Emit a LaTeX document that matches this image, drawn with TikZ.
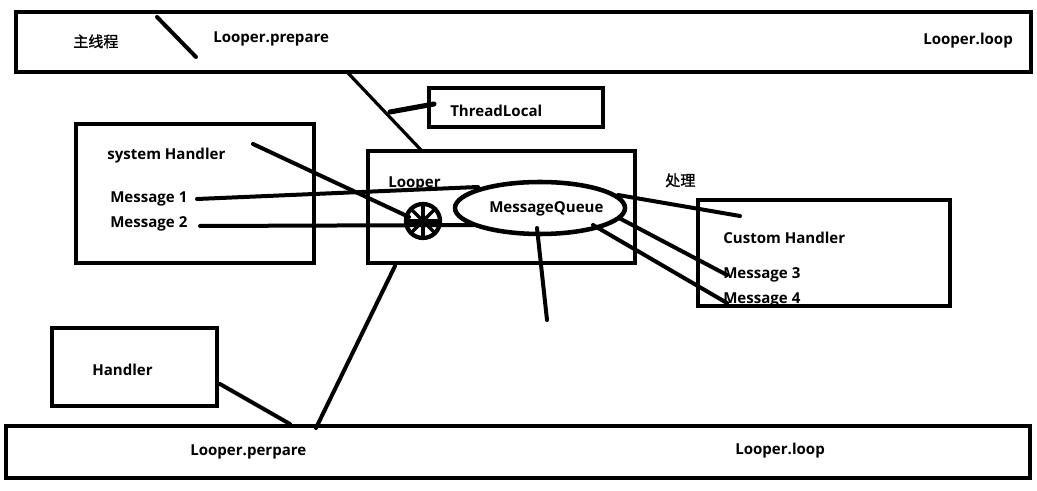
\documentclass[tikz,border=0pt]{standalone}
\usepackage{fontspec}
\setmainfont{Open Sans}
\newfontfamily\cjk[FakeBold=1.2]{Noto Sans CJK SC}
\tikzset{
  box/.style={line width=3.4pt},
  wire/.style={line width=3pt, line cap=round},
  label/.style={anchor=west, inner sep=0pt, yshift=-1.5pt, font=\fontsize{11.3}{13}\selectfont\bfseries},
  hanzi/.style={anchor=west, inner sep=0pt, yshift=-1pt, font=\fontsize{11.3}{13}\selectfont\cjk}
}
\begin{document}
\begin{tikzpicture}[x=0.75pt,y=0.75pt,yscale=-1,xscale=1]
\useasboundingbox (0,0) rectangle (1037,491);

%Shape: Rectangle (main thread)
\draw [box] (16,12) rectangle (1031,72);
%Shape: Rectangle (ThreadLocal)
\draw [box] (429,88) rectangle (603,127);
%Shape: Rectangle (system Handler)
\draw [box] (76,124) rectangle (314,263);
%Shape: Rectangle (Looper)
\draw [box] (368,151) rectangle (635,263);
%Shape: Rectangle (Custom Handler)
\draw [box] (698,200) rectangle (950,306);
%Shape: Rectangle (Handler)
\draw [box] (52,328) rectangle (217,406);
%Shape: Rectangle (second thread)
\draw [box] (6,426) rectangle (1030,478);
%Shape: Ellipse (MessageQueue)
\draw [box] (540,208) ellipse [x radius=85, y radius=26];
%Shape: Circle (wheel)
\draw [line width=3.2pt] (423,221) circle [radius=17];
\foreach \a in {0,45,...,135}
  \draw [line width=2.4pt] (423,221) ++(\a:17) -- ++(\a+180:34);

% Text Node
\node [hanzi] (mainthread) at (73,40) {主线程};
% Text Node
\node [label] (prepare) at (213,37) {Looper.prepare};
% Text Node
\node [label] (looptop) at (923,39) {Looper.loop};
% Text Node
\node [label] (threadlocal) at (450,109) {ThreadLocal};
% Text Node
\node [label] (syshandler) at (107,154) {system Handler};
% Text Node
\node [label] (msgone) at (110,197) {Message 1};
% Text Node
\node [label] (msgtwo) at (110,222) {Message 2};
% Text Node
\node [label] (looper) at (388,182) {Looper};
% Text Node
\node [label] (queue) at (489,207) {MessageQueue};
% Text Node
\node [hanzi] (process) at (665,179) {处理};
% Text Node
\node [label] (custom) at (723,236) {Custom Handler};
% Text Node
\node [label] (msgthree) at (723,273) {Message 3};
% Text Node
\node [label] (msgfour) at (723,298) {Message 4};
% Text Node
\node [label] (handler) at (92,368) {Handler};
% Text Node
\node [label] (perpare) at (190,450) {Looper.perpare};
% Text Node
\node [label] (loopbottom) at (735,449) {Looper.loop};

% Coordinates for the strokes
\coordinate (slashA) at (157,17);
\coordinate (slashB) at (196,57);
\coordinate (topA) at (348,73);
\coordinate (topB) at (421,150);
\coordinate (tlA) at (390,112);
\coordinate (tlB) at (434,104);
\coordinate (sysA) at (253,144);
\coordinate (sysB) at (409,217);
\coordinate (m1A) at (197,199);
\coordinate (m1B) at (478,187);
\coordinate (m2A) at (200,226);
\coordinate (m2B) at (475,225);
\coordinate (qdownA) at (537,228);
\coordinate (qdownB) at (547,320);
\coordinate (chA) at (618,195);
\coordinate (chB) at (740,216);
\coordinate (m3A) at (619,218);
\coordinate (m3B) at (727,275);
\coordinate (m4A) at (593,225);
\coordinate (m4B) at (727,303);
\coordinate (hA) at (220,384);
\coordinate (hB) at (290,424);
\coordinate (lpA) at (395,266);
\coordinate (lpB) at (316,428);

%Straight Lines
\draw [wire] (slashA) -- (slashB);
\draw [wire, line width=2.4pt] (topA) -- (topB);
\draw [wire, line width=3.8pt] (tlA) -- (tlB);
\draw [wire] (sysA) -- (sysB);
\draw [wire] (m1A) -- (m1B);
\draw [wire] (m2A) -- (m2B);
\draw [wire] (qdownA) -- (qdownB);
\draw [wire] (chA) -- (chB);
\draw [wire] (m3A) -- (m3B);
\draw [wire] (m4A) -- (m4B);
\draw [wire] (hA) -- (hB);
\draw [wire] (lpA) -- (lpB);

\end{tikzpicture}
\end{document}
